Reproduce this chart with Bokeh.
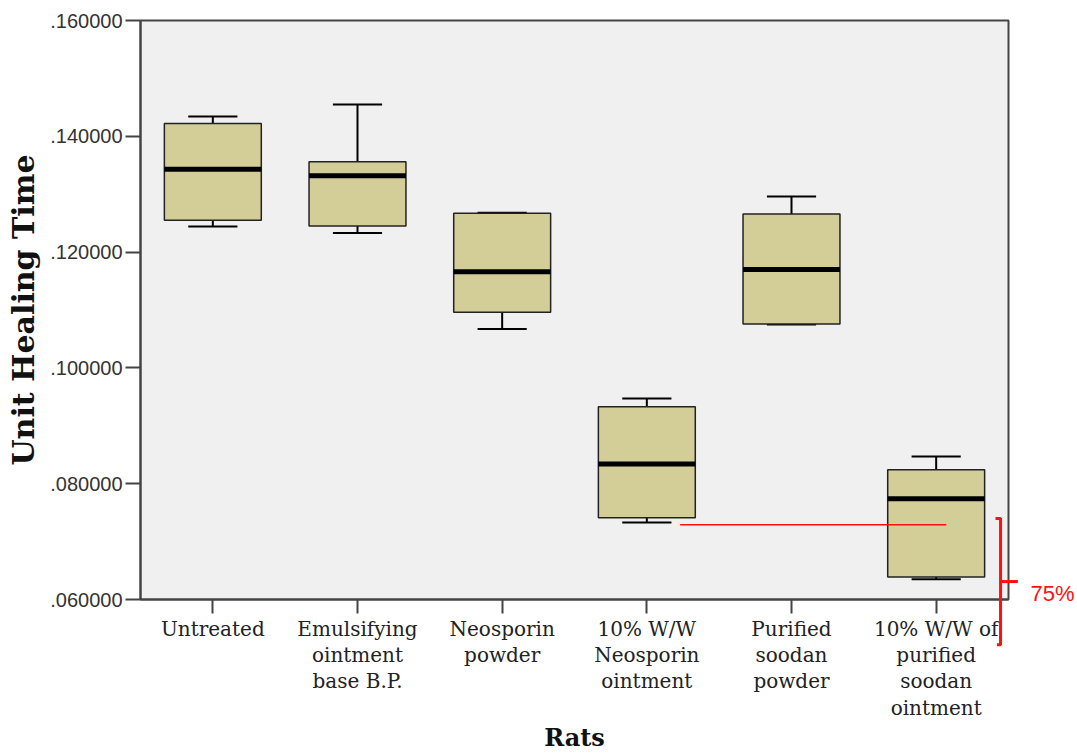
from bokeh.plotting import figure
from bokeh.models import (FactorRange, Range1d, FixedTicker, CustomJSTickFormatter,
                          ColumnDataSource)
from bokeh.transform import dodge
from bokeh.core.properties import value
from bokeh.embed import file_html
from bokeh.resources import INLINE

# ---- data ----
categories = ["Untreated",
              "Emulsifying\nointment\nbase B.P.",
              "Neosporin\npowder",
              "10% W/W\nNeosporin\nointment",
              "Purified\nsoodan\npowder",
              "10% W/W of\npurified\nsoodan\nointment"]
lower_whisker = [0.1244, 0.1233, 0.1067, 0.0733, 0.1075, 0.0635]
q1 = [0.1255, 0.1245, 0.1096, 0.0741, 0.1076, 0.0639]
median = [0.1343, 0.1332, 0.1166, 0.0834, 0.1170, 0.0774]
q3 = [0.1422, 0.1356, 0.1267, 0.0933, 0.1266, 0.0824]
upper_whisker = [0.1434, 0.1455, 0.1268, 0.0947, 0.1296, 0.0847]
y_ticks = [0.06, 0.08, 0.10, 0.12, 0.14, 0.16]
y_min, y_max = 0.06, 0.16

# red hand-drawn annotation (category-axis units, value units)
ann_line_x = [3.73, 5.57]
ann_line_y = 0.0729
bracket_x = 5.945
bracket_top, bracket_mid, bracket_bottom = 0.0740, 0.0631, 0.0522
ann_text = "75%"
ann_text_y = 0.0611

src = ColumnDataSource(dict(cat=categories, lo=lower_whisker, q1=q1, med=median,
                            q3=q3, hi=upper_whisker))

p = figure(x_range=FactorRange(*categories), y_range=Range1d(y_min, y_max),
           width=1075, height=754, output_backend="svg", toolbar_location=None,
           min_border_left=140, min_border_top=20, min_border_right=67,
           min_border_bottom=155)

p.background_fill_color = "#f0f0f0"
p.border_fill_color = "white"
p.outline_line_color = "#444444"
p.outline_line_width = 2
p.xgrid.visible = False
p.ygrid.visible = False

# whisker stems
p.segment(x0="cat", x1="cat", y0="q3", y1="hi", source=src, line_color="black", line_width=2)
p.segment(x0="cat", x1="cat", y0="q1", y1="lo", source=src, line_color="black", line_width=2)
# whisker caps
p.segment(x0=dodge("cat", -0.17, range=p.x_range), x1=dodge("cat", 0.17, range=p.x_range),
          y0="hi", y1="hi", source=src, line_color="black", line_width=2)
p.segment(x0=dodge("cat", -0.17, range=p.x_range), x1=dodge("cat", 0.17, range=p.x_range),
          y0="lo", y1="lo", source=src, line_color="black", line_width=2)
# boxes
p.vbar(x="cat", top="q3", bottom="q1", width=0.67, source=src,
       fill_color="#d3ce97", line_color="#222222", line_width=1.5)
# medians
p.segment(x0=dodge("cat", -0.335, range=p.x_range), x1=dodge("cat", 0.335, range=p.x_range),
          y0="med", y1="med", source=src, line_color="black", line_width=5)

# red annotation (overlay level so it is not clipped to the frame)
red = "#ff1010"
p.segment(x0=[ann_line_x[0]], x1=[ann_line_x[1]], y0=[ann_line_y], y1=[ann_line_y],
          line_color=red, line_width=1.5)
p.multi_line(xs=[[bracket_x - 0.035, bracket_x, bracket_x, bracket_x - 0.025]],
             ys=[[bracket_top, bracket_top, bracket_bottom, bracket_bottom]],
             line_color=red, line_width=3, level="overlay")
p.segment(x0=[bracket_x], x1=[bracket_x + 0.12], y0=[bracket_mid], y1=[bracket_mid],
          line_color=red, line_width=3, level="overlay")
p.text(x=[bracket_x], y=[ann_text_y], text=[ann_text], x_offset=30,
       text_color=red, text_font=value("Liberation Sans"), text_font_size="22px",
       text_baseline="middle", text_align="left", level="overlay")

# axes
for ax in (p.xaxis[0], p.yaxis[0]):
    ax.axis_line_color = "#444444"
    ax.axis_line_width = 2
    ax.major_tick_line_color = "#444444"
    ax.major_tick_line_width = 2
    ax.major_tick_in = 0
    ax.minor_tick_line_color = None

p.yaxis.ticker = FixedTicker(ticks=y_ticks)
p.yaxis.formatter = CustomJSTickFormatter(code="return tick.toFixed(6).replace(/^0/, '');")
p.yaxis.major_tick_out = 15
p.yaxis.major_label_standoff = 3
p.yaxis.major_label_text_font = "Liberation Sans"
p.yaxis.major_label_text_font_size = "20px"
p.yaxis.major_label_text_color = "#333333"
p.yaxis.axis_label = "Unit Healing Time"
p.yaxis.axis_label_text_font = "DejaVu Serif"
p.yaxis.axis_label_text_font_style = "bold"
p.yaxis.axis_label_text_font_size = "30px"
p.yaxis.axis_label_text_color = "#111111"
p.yaxis.axis_label_standoff = 6

p.xaxis.major_tick_out = 14
p.xaxis.major_label_standoff = 3
p.xaxis.major_label_text_font = "DejaVu Serif"
p.xaxis.major_label_text_font_size = "20px"
p.xaxis.major_label_text_line_height = 1.1
p.xaxis.major_label_text_color = "#222222"
p.xaxis.axis_label = "Rats"
p.xaxis.axis_label_text_font = "DejaVu Serif"
p.xaxis.axis_label_text_font_style = "bold"
p.xaxis.axis_label_text_font_size = "24px"
p.xaxis.axis_label_text_color = "#111111"
p.xaxis.axis_label_standoff = 0

open("out.html", "w").write(file_html(p, INLINE))
